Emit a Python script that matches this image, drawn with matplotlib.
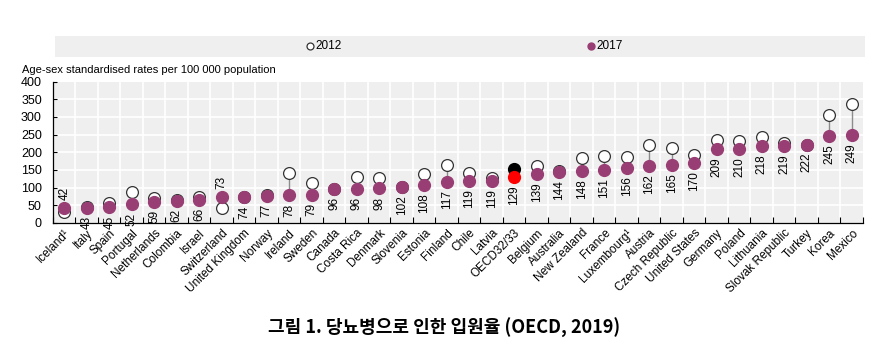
import numpy as np
import matplotlib
matplotlib.use("Agg")
import matplotlib.pyplot as plt
from matplotlib.patches import Rectangle

countries = ["Iceland\u00b9", "Italy", "Spain", "Portugal", "Netherlands", "Colombia",
             "Israel", "Switzerland", "United Kingdom", "Norway", "Ireland", "Sweden",
             "Canada", "Costa Rica", "Denmark", "Slovenia", "Estonia", "Finland",
             "Chile", "Latvia", "OECD32/33", "Belgium", "Australia", "New Zealand",
             "France", "Luxembourg\u00b9", "Austria", "Czech Republic", "United States",
             "Germany", "Poland", "Lithuania", "Slovak Republic", "Turkey", "Korea", "Mexico"]
rate_2017 = [42, 43, 45, 52, 59, 62, 66, 73, 74, 77, 78, 79, 96, 96, 98, 102, 108, 117,
             119, 119, 129, 139, 144, 148, 151, 156, 162, 165, 170, 209, 210, 218, 219,
             222, 245, 249]
rate_2012 = [31, 45, 55, 87, 70, 65, 72, 42, 72, 80, 141, 112, 96, 131, 127, 102, 139, 164,
             142, 128, 152, 161, 146, 183, 190, 186, 221, 211, 191, 235, 232, 243, 227,
             222, 306, 337]
oecd_name = "OECD32/33"

PURPLE = "#993e74"
NARROW = ["Liberation Sans Narrow", "Liberation Sans", "DejaVu Sans"]

fig = plt.figure(figsize=(8.89, 3.6), dpi=100)
ax = fig.add_axes([0.0596, 0.381, 0.911, 0.392])
ax.set_facecolor("#efefef")

x = np.arange(len(countries))
ax.set_xlim(-0.5, len(countries) - 0.5)
ax.set_ylim(0, 400)

# grid: white lines at category boundaries and y ticks
for b in np.arange(0.5, len(countries) - 0.5, 1):
    ax.axvline(b, color="white", lw=1.2, zorder=0)
for yv in range(50, 400, 50):
    ax.axhline(yv, color="white", lw=1.2, zorder=0)

for i, c in enumerate(countries):
    v17, v12 = rate_2017[i], rate_2012[i]
    ax.plot([i, i], [v12, v17], color="#8c8c8c", lw=1.0, zorder=1)
    if c == oecd_name:
        ax.plot(i, v12, "o", ms=8.5, mfc="black", mec="black", zorder=2)
        ax.plot(i, v17, "o", ms=8.5, mfc="#ff0000", mec="#ff0000", zorder=3)
    else:
        ax.plot(i, v12, "o", ms=8.5, mfc="white", mec="#333333", mew=0.9, zorder=2)
        ax.plot(i, v17, "o", ms=8.5, mfc=PURPLE, mec=PURPLE, zorder=3)
    if v12 < v17 - 3:
        ax.annotate(str(v17), (i, v17), xytext=(0, 6), textcoords="offset points",
                    rotation=90, ha="center", va="bottom", fontsize=8.5, family=NARROW)
    else:
        ax.annotate(str(v17), (i, min(v17, v12)), xytext=(0, -6), textcoords="offset points",
                    rotation=90, ha="center", va="top", fontsize=8.5, family=NARROW)

ax.set_xticks(x)
ax.set_xticklabels(countries, rotation=45, ha="right", rotation_mode="anchor",
                   fontsize=8.5, family=NARROW)
ax.tick_params(axis="x", length=0, pad=3)
ax.set_xticks(np.arange(-0.5, len(countries), 1), minor=True)
ax.tick_params(axis="x", which="minor", direction="in", length=4, width=0.8)

ax.set_yticks(range(0, 401, 50))
ax.set_yticklabels([str(v) for v in range(0, 401, 50)], fontsize=9, family=NARROW)
ax.tick_params(axis="y", direction="in", length=3, width=0.8, pad=8)

for s in ["top", "right"]:
    ax.spines[s].set_visible(False)
for s in ["left", "bottom"]:
    ax.spines[s].set_linewidth(0.9)

fig.text(0.025, 0.805, "Age-sex standardised rates per 100 000 population",
         fontsize=8, family=NARROW, ha="left", va="center")

# legend band
fig.patches.append(Rectangle((0.062, 0.843), 0.911, 0.058, transform=fig.transFigure,
                             facecolor="#efefef", edgecolor="none", zorder=0))
fig.lines.append(plt.Line2D([0.349], [0.872], transform=fig.transFigure, marker="o",
                            ms=5, mfc="white", mec="#333333", mew=0.9, ls="none"))
fig.text(0.355, 0.872, "2012", fontsize=8.5, family=NARROW, va="center", ha="left")
fig.lines.append(plt.Line2D([0.665], [0.872], transform=fig.transFigure, marker="o",
                            ms=5, mfc=PURPLE, mec=PURPLE, ls="none"))
fig.text(0.671, 0.872, "2017", fontsize=8.5, family=NARROW, va="center", ha="left")

fig.text(0.5, 0.088, "그림 1. 당뇨병으로 인한 입원율 (OECD, 2019)",
         fontsize=13, fontweight="bold", family=["Noto Sans CJK KR", "DejaVu Sans"],
         ha="center", va="center")

fig.savefig("out.png", dpi=100)
